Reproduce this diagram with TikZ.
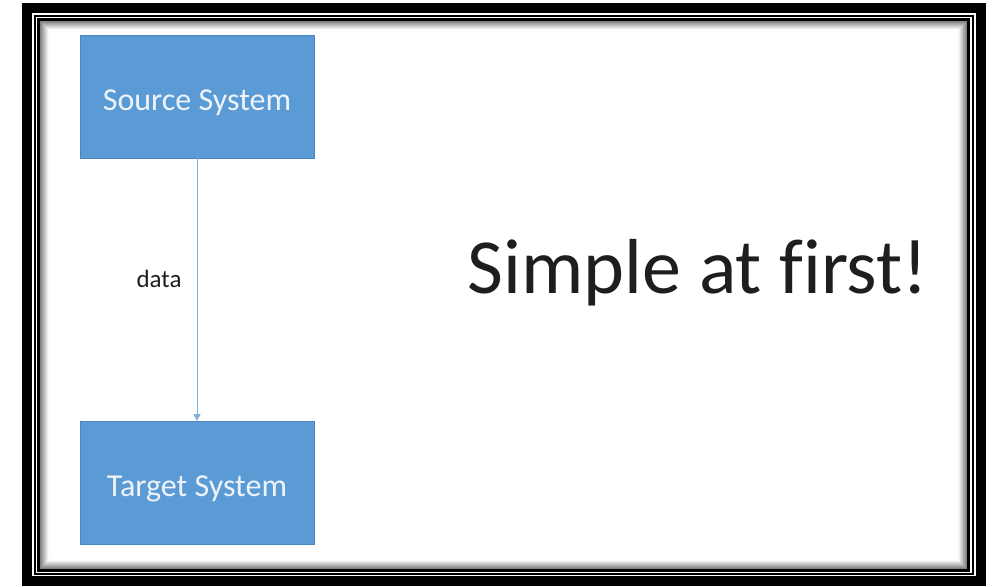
\documentclass[tikz,border=0pt]{standalone}
\usepackage{fontspec}
\setmainfont{Carlito}[RawFeature=-liga]
\usetikzlibrary{arrows.meta}
\definecolor{boxblue}{HTML}{5B9BD5}
\definecolor{boxedge}{HTML}{4A86C0}
\definecolor{linkblue}{HTML}{86AEDB}
\definecolor{boxtext}{HTML}{EEF3FA}
\definecolor{darktext}{HTML}{1E1E1E}
\begin{document}
\begin{tikzpicture}[x=1pt,y=-1pt,line cap=butt,line join=miter,>={Triangle[width=7pt,length=7pt]}]
			\tikzset{sysbox/.style={draw=boxedge,line width=.8pt,fill=boxblue,text=boxtext,minimum width=234pt,minimum height=123pt,inner sep=0pt,text height=27pt,text depth=0pt,font=\fontsize{32}{38}\selectfont}}
			\useasboundingbox (0,0) rectangle (998,586);
			% frame
			\draw[line width=10pt] (27,8) rectangle (981,581);
			\draw[line width=2pt] (35,16) rectangle (973,574);
			\draw[line width=4pt] (39,20) rectangle (968,570);
			\foreach \i in {1,...,9}{
				\draw[line width=1.2pt,black!\the\numexpr 55-6*\i\relax] (40+\i,21+\i) rectangle (967-\i,569-\i);
			}
			% boxes
			\node[sysbox] (src) at (197,96.5) {Source System};
			\node[sysbox] (tgt) at (197,483) {Target System};
			\draw[->,linkblue,line width=1pt] (src) -- (tgt)
			node[pos=.46,left=15pt,inner sep=0pt,text=darktext,font=\fontsize{25}{30}\selectfont] (lbl) {data};
			\node[text=darktext,anchor=base,inner sep=0pt,font=\fontsize{78}{90}\selectfont] (title) at (698,293) {Simple at f\kern0pt irst!};
		\end{tikzpicture}
\end{document}
